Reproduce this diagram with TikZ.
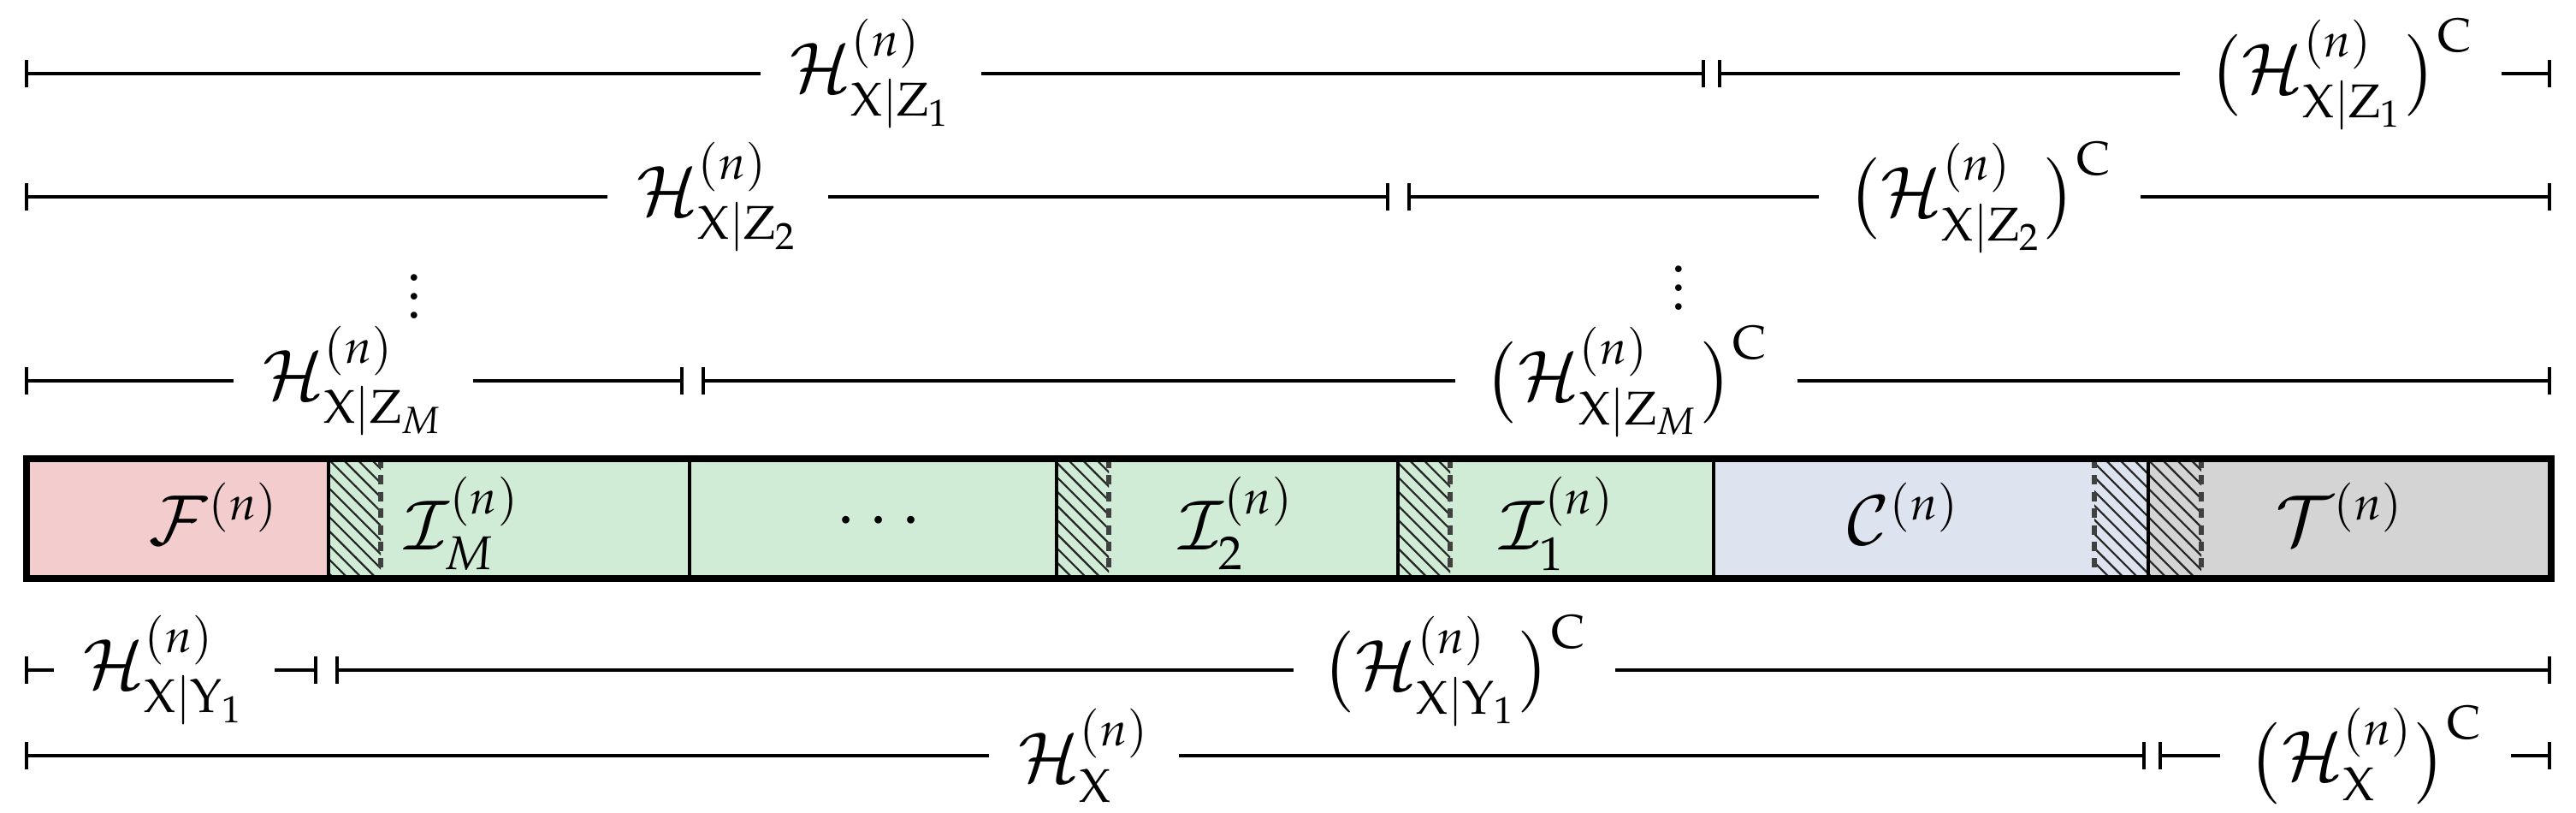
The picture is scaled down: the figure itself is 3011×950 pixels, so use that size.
\documentclass[tikz,border=0pt]{standalone}
\usepackage{mathpazo}
\usetikzlibrary{patterns}
\definecolor{cF}{RGB}{243,204,206}
\definecolor{cI}{RGB}{208,236,214}
\definecolor{cC}{RGB}{221,227,239}
\definecolor{cT}{RGB}{212,212,212}
\newcommand{\Hc}{\mathcal{H}}
\begin{document}
\begin{tikzpicture}[x=0.00635cm,y=-0.00635cm,
  seg/.style={line width=0.8pt},
  hat/.style={pattern=north west lines,pattern color=black!85},
  dsh/.style={line width=1pt,black!75,dash pattern=on 2pt off 1.5pt},
  lbl/.style={fill=white,inner xsep=6pt,inner ysep=0pt,font=\Large},
  bl/.style={font=\Large},
  rng/.style={line width=0.6pt},
  tick/.style={line width=0.6pt}]
\useasboundingbox (0,0) rectangle (3011,950);
% ranges
\newcommand{\rng}[5]{% y, x1, x2, label, lx
  \draw[rng] (#2,#1) -- (#3,#1);
  \draw[tick] (#2,#1-16) -- (#2,#1+16);
  \draw[tick] (#3,#1-16) -- (#3,#1+16);
  \node[lbl] at (#5,#1) {#4};}
\rng{86}{31}{1991}{$\Hc^{(n)}_{\mathrm{X}|\mathrm{Z}_1}$}{1018}
\rng{86}{2010}{2980}{$\big(\Hc^{(n)}_{\mathrm{X}|\mathrm{Z}_1}\big)^{\mathrm{C}}$}{2736}
\rng{230}{31}{1622}{$\Hc^{(n)}_{\mathrm{X}|\mathrm{Z}_2}$}{839}
\rng{230}{1647}{2980}{$\big(\Hc^{(n)}_{\mathrm{X}|\mathrm{Z}_2}\big)^{\mathrm{C}}$}{2314}
\rng{445}{31}{797}{$\Hc^{(n)}_{\mathrm{X}|\mathrm{Z}_M}$}{413}
\rng{445}{822}{2980}{$\big(\Hc^{(n)}_{\mathrm{X}|\mathrm{Z}_M}\big)^{\mathrm{C}}$}{1901}
\rng{783}{31}{369}{$\Hc^{(n)}_{\mathrm{X}|\mathrm{Y}_1}$}{192}
\rng{783}{394}{2980}{$\big(\Hc^{(n)}_{\mathrm{X}|\mathrm{Y}_1}\big)^{\mathrm{C}}$}{1700}
\rng{883}{31}{2506}{$\Hc^{(n)}_{\mathrm{X}}$}{1267}
\rng{883}{2525}{2980}{$\big(\Hc^{(n)}_{\mathrm{X}}\big)^{\mathrm{C}}$}{2765}
\node[bl] (v1) at (484,330) {$\vdots$};
\node[bl] (v2) at (1962,320) {$\vdots$};
% bar
\fill[cF] (31,536) rectangle (384,676);
\fill[cI] (384,536) rectangle (2003,676);
\fill[cC] (2003,536) rectangle (2511,676);
\fill[cT] (2511,536) rectangle (2982,676);
\foreach \a/\b in {384/445,1235/1296,1634/1695,2448/2511,2511/2573}
  \fill[hat] (\a,536) rectangle (\b,676);
\foreach \x in {445,1296,1695,2448,2573} \draw[dsh] (\x,536) -- (\x,676);
\foreach \x in {384,806,1235,1634,2003,2511} \draw[seg] (\x,536) -- (\x,676);
\draw[line width=1.4pt] (31,536) rectangle (2982,676);
\node[bl] (f) at (250,600) {$\mathcal{F}^{(n)}$};
\node[bl] (im) at (540,612) {$\mathcal{I}_M^{(n)}$};
\node[bl] (dd) at (1027,610) {$\cdots$};
\node[bl] (i2) at (1445,612) {$\mathcal{I}_2^{(n)}$};
\node[bl] (i1) at (1820,612) {$\mathcal{I}_1^{(n)}$};
\node[bl] (c) at (2225,600) {$\mathcal{C}^{(n)}$};
\node[bl] (t) at (2735,600) {$\mathcal{T}^{(n)}$};
\end{tikzpicture}
\end{document}
